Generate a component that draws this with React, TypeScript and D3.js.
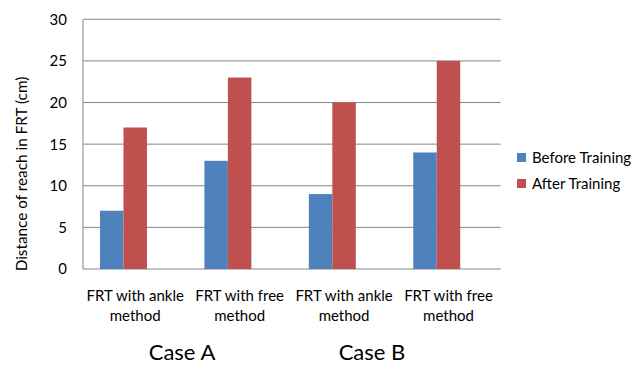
import React from "react";
import * as d3 from "d3";

const categories = ["FRT with ankle method", "FRT with free method", "FRT with ankle method ", "FRT with free method "];
const categoryLines = [["FRT with ankle", "method"], ["FRT with free", "method"], ["FRT with ankle", "method"], ["FRT with free", "method"]];
const beforeTraining = [7, 13, 9, 14];
const afterTraining = [17, 23, 20, 25];
const seriesNames = ["Before Training", "After Training"];
// excel left an empty third series slot, which pushes the bars left in each group
const slots = ["Before Training", "After Training", "blank"];
const yTicks = [0, 5, 10, 15, 20, 25, 30];
const caseLabels = ["Case A", "Case B"];

const colors = ["#4F81BD", "#C0504D"];
const font = "Lato, 'Open Sans', sans-serif";

export default function App() {
  const width = 642, height = 391;
  const left = 83, right = 500.7, top = 19.3, bottom = 269;

  const x0 = d3.scaleBand().domain(categories).range([left, right]).paddingInner(0.325).paddingOuter(0.1625);
  const x1 = d3.scaleBand().domain(slots).range([0, x0.bandwidth()]);
  const y = d3.scaleLinear().domain([0, 30]).range([bottom, top]);

  const series = [beforeTraining, afterTraining];

  return (
    <svg width={width} height={height} style={{ position: "absolute", left: 0, top: 0, background: "#fff" }}>
      {yTicks.map((t) => (
        <g key={t}>
          <line x1={left} x2={right} y1={y(t)} y2={y(t)} stroke="#868686" strokeWidth={1} />
          <text x={67} y={y(t)} dy="0.36em" textAnchor="end" fontFamily={font} fontSize={15} fill="#000">{t}</text>
        </g>
      ))}
      <line x1={left} x2={left} y1={top} y2={bottom} stroke="#868686" strokeWidth={1} />

      {series.map((vals, si) =>
        vals.map((v, ci) => (
          <rect
            key={`${si}-${ci}`}
            x={(x0(categories[ci]) ?? 0) + (x1(slots[si]) ?? 0)}
            y={y(v)}
            width={x1.bandwidth()}
            height={y(0) - y(v)}
            fill={colors[si]}
          />
        ))
      )}

      {categories.map((c, ci) => {
        const cx = (x0(c) ?? 0) + x0.bandwidth() / 2;
        return (
          <text key={c} x={cx} textAnchor="middle" fontFamily={font} fontSize={15} fill="#000">
            <tspan x={cx} y={301}>{categoryLines[ci][0]}</tspan>
            <tspan x={cx} y={321}>{categoryLines[ci][1]}</tspan>
          </text>
        );
      })}

      <text x={182} y={360} textAnchor="middle" fontFamily={font} fontSize={22} fill="#000">{caseLabels[0]}</text>
      <text x={372} y={360} textAnchor="middle" fontFamily={font} fontSize={22} fill="#000">{caseLabels[1]}</text>

      <text transform={`translate(27,174) rotate(-90)`} textAnchor="middle" fontFamily={font} fontSize={15.3} fill="#000">
        Distance of reach in FRT (cm)
      </text>

      {seriesNames.map((s, i) => (
        <g key={s} transform={`translate(517,${153 + i * 26})`}>
          <rect width={9} height={9} fill={colors[i]} />
          <text x={15} y={9.5} fontFamily={font} fontSize={15} fill="#000">{s}</text>
        </g>
      ))}
    </svg>
  );
}
